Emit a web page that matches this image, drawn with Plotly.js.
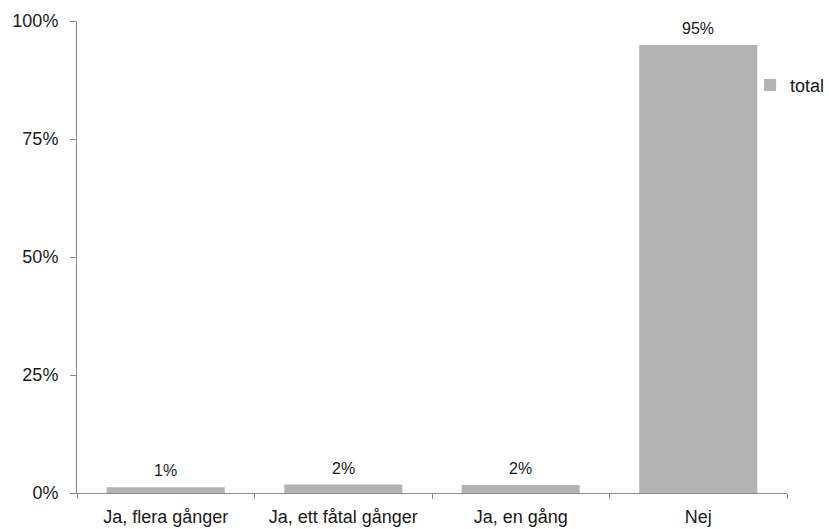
<!DOCTYPE html>
<html>
<head>
<meta charset="utf-8">
<script src="https://cdn.plot.ly/plotly-3.0.1.min.js"></script>
<style>html,body{margin:0;padding:0;background:#fff;}#chart{width:829px;height:529px;}</style>
</head>
<body>
<div id="chart"></div>
<script>
const categories = ["Ja, flera gånger", "Ja, ett fåtal gånger", "Ja, en gång", "Nej"];
const values = [1.2, 1.8, 1.7, 94.9];
const labels = ["1%", "2%", "2%", "95%"];
const yTicks = [0, 25, 50, 75, 100];
const yTickText = ["0%", "25%", "50%", "75%", "100%"];
const seriesName = "total";

const FONT = "Liberation Sans, Arial, Helvetica, sans-serif";
const AXIS = "#8a8a8a";

const trace = {
  type: "bar",
  x: categories,
  y: values,
  name: seriesName,
  marker: {color: "#b3b3b3"},
  hoverinfo: "skip",
  showlegend: true
};

const annotations = categories.map((c, i) => ({
  x: c, y: values[i], xref: "x", yref: "y",
  text: labels[i], showarrow: false,
  yanchor: "bottom", yshift: 6,
  font: {family: FONT, size: 16, color: "#1a1a1a"}
}));

const layout = {
  width: 829, height: 529,
  margin: {l: 77, r: 42, t: 21, b: 36, autoexpand: false},
  paper_bgcolor: "#fff", plot_bgcolor: "#fff",
  font: {family: FONT, size: 18, color: "#1a1a1a"},
  bargap: 0.335,
  xaxis: {
    type: "category",
    showline: true, linecolor: AXIS, linewidth: 1,
    ticks: "outside", tickson: "boundaries", ticklen: 5, tickcolor: AXIS, tickwidth: 1,
    showgrid: false, zeroline: false,
    ticklabelstandoff: 7,
    tickfont: {family: FONT, size: 18, color: "#1a1a1a"}
  },
  yaxis: {
    range: [0, 100], tickmode: "array", tickvals: yTicks, ticktext: yTickText,
    showline: true, linecolor: AXIS, linewidth: 1,
    ticks: "outside", ticklen: 6, tickcolor: AXIS, tickwidth: 1,
    showgrid: false, zeroline: false,
    ticklabelstandoff: 8,
    tickfont: {family: FONT, size: 18, color: "#1a1a1a"}
  },
  showlegend: true,
  legend: {
    x: 0.948, xanchor: "left", y: 0.864, yanchor: "middle",
    font: {family: FONT, size: 18, color: "#1a1a1a"},
    bgcolor: "rgba(0,0,0,0)", borderwidth: 0, itemwidth: 30
  },
  annotations: annotations
};

Plotly.newPlot("chart", [trace], layout, {displayModeBar: false, staticPlot: true});
</script>
</body>
</html>
